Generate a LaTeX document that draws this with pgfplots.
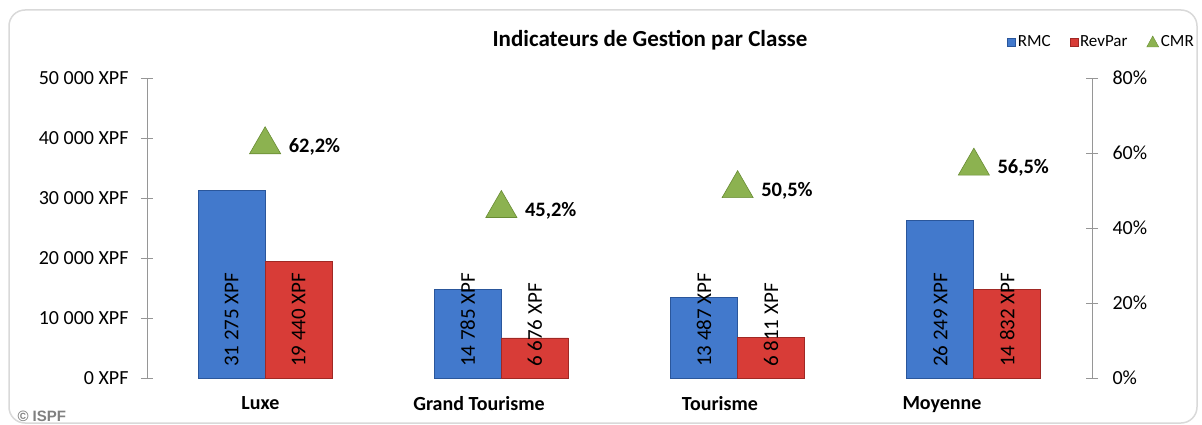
\documentclass[border=0pt]{standalone}
\usepackage{pgfplots}
\pgfplotsset{compat=1.18}
\usepackage{fontspec}
\setmainfont{Carlito}
\newfontfamily\arialf{Liberation Sans}
\definecolor{rmc}{RGB}{66,121,204}
\definecolor{rmcD}{RGB}{42,86,155}
\definecolor{rev}{RGB}{216,60,55}
\definecolor{revD}{RGB}{160,40,36}
\definecolor{cmr}{RGB}{140,178,80}
\definecolor{cmrD}{RGB}{105,140,52}
\definecolor{axgray}{RGB}{150,150,150}
\definecolor{frame}{RGB}{217,217,217}
\pgfplotsset{/pgf/number format/assume math mode=true}
\begin{document}
\begin{tikzpicture}
\useasboundingbox (0,0) rectangle (1202pt,424pt);
\draw[line width=1.5pt, color=frame, rounded corners=16pt] (9pt,1pt) rectangle (1197pt,414pt);
\node[font=\fontsize{23}{26}\selectfont\bfseries] at (650pt,384pt) {Indicateurs de Gestion par Classe};
\node[anchor=west, font=\arialf\bfseries\fontsize{15}{17}\selectfont, text=gray] at (14pt,8pt) {© ISPF};

\begin{axis}[
 at={(147pt,46pt)}, anchor=south west,
 scale only axis, width=945pt, height=300pt,
 xmin=-0.5, xmax=3.5, ymin=0, ymax=50000,
 axis x line*=bottom, axis y line*=left,
 x axis line style={draw=none},
 y axis line style={draw=axgray, line width=0.8pt, -},
 xtick={-0.02,0.905,1.925,2.865}, xticklabels={Luxe, Grand Tourisme, Tourisme, Moyenne},
 x tick style={draw=none},
 xticklabel style={font=\fontsize{20}{23}\selectfont\bfseries, yshift=-9pt},
 ytick={0,10000,...,50000},
 scaled y ticks=false,
 y tick style={draw=axgray, line width=0.8pt},
 tick align=center, major tick length=12pt,
 yticklabel={\pgfmathprintnumber[fixed,1000 sep={\ }]{\tick}~XPF},
 yticklabel style={font=\fontsize{20}{22}\selectfont, xshift=-9pt},
 clip=false,
]
\addplot[ybar, bar width=67pt, bar shift=-33.5pt, fill=rmc, draw=rmcD, line width=0.8pt]
 coordinates {(0,31275) (1,14785) (2,13487) (3,26249)};
\addplot[ybar, bar width=67pt, bar shift=33.5pt, fill=rev, draw=revD, line width=0.8pt]
 coordinates {(0,19440) (1,6676) (2,6811) (3,14832)};
% value labels at bar bases
\addplot[draw=none, mark=none, point meta=explicit,
 nodes near coords={\pgfmathprintnumber[fixed,1000 sep={\ }]{\pgfplotspointmeta}~XPF},
 nodes near coords style={rotate=90, anchor=west, inner sep=11pt, font=\fontsize{21}{23}\selectfont, text=black}]
 coordinates {(-0.1418,0) [31275] (0.8582,0) [14785] (1.8582,0) [13487] (2.8582,0) [26249]};
\addplot[draw=none, mark=none, point meta=explicit,
 nodes near coords={\pgfmathprintnumber[fixed,1000 sep={\ }]{\pgfplotspointmeta}~XPF},
 nodes near coords style={rotate=90, anchor=west, inner sep=11pt, font=\fontsize{21}{23}\selectfont, text=black}]
 coordinates {(0.1418,0) [19440] (1.1418,0) [6676] (2.1418,0) [6811] (3.1418,0) [14832]};
\end{axis}

\begin{axis}[
 at={(147pt,46pt)}, anchor=south west,
 scale only axis, width=945pt, height=300pt,
 xmin=-0.5, xmax=3.5, ymin=0, ymax=80,
 axis x line=none, axis y line*=right,
 y axis line style={draw=axgray, line width=0.8pt, -},
 ytick={0,20,...,80},
 y tick style={draw=axgray, line width=0.8pt},
 tick align=center, major tick length=12pt,
 yticklabel={\pgfmathprintnumber{\tick}\%},
 yticklabel style={font=\fontsize{20}{22}\selectfont, xshift=11pt},
 clip=false,
 legend columns=3,
 legend style={at={(1.110,1.12)}, anchor=east, draw=none, fill=none,
   font=\fontsize{17}{19}\selectfont, inner sep=0pt,
   /tikz/every even column/.append style={column sep=17pt}},
]
\addlegendimage{legend image code/.code={\fill[rmc,draw=rmcD] (0pt,-4pt) rectangle (8pt,4pt);}}
\addlegendentry{RMC}
\addlegendimage{legend image code/.code={\fill[rev,draw=revD] (0pt,-4pt) rectangle (8pt,4pt);}}
\addlegendentry{RevPar}
\addplot[only marks, mark=triangle*, mark size=18pt, mark options={fill=cmr, draw=cmrD, line width=0.6pt},
 legend image code/.code={\fill[cmr,draw=cmrD] (0pt,-5pt) -- (12pt,-5pt) -- (6pt,6pt) -- cycle;},
 point meta=y,
 nodes near coords={\pgfmathprintnumber[fixed,precision=1,zerofill,use comma]{\pgfplotspointmeta}\%},
 nodes near coords style={anchor=west, xshift=20pt, yshift=-2pt, font=\fontsize{20.5}{23}\selectfont\bfseries, text=black}]
 coordinates {(0,62.2) (1,45.2) (2,50.5) (3,56.5)};
\addlegendentry{CMR}
\end{axis}
\end{tikzpicture}
\end{document}
